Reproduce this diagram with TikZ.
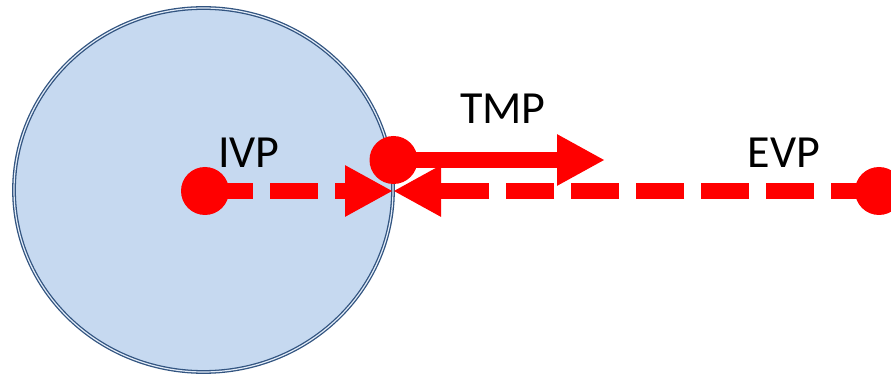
\documentclass[tikz,border=0pt]{standalone}
\usepackage{fontspec}
\setmainfont{Carlito}
\usetikzlibrary{positioning}
\usetikzlibrary{arrows.meta}
\definecolor{cellblue}{RGB}{198,217,240}
\definecolor{rimblue}{RGB}{50,84,128}

\begin{document}
\begin{tikzpicture}[x=0.5pt,y=-0.5pt]
 \tikzset{dot/.style={circle,fill=red,minimum size=24pt,inner sep=0pt},
  redline/.style={red,line width=8pt,-{Triangle[length=24pt,width=24pt]}},
  dashline/.style={redline,dash pattern=on 24pt off 8.5pt},
  lbl/.style={inner sep=0pt,font=\fontsize{23}{28}\selectfont}}
 \useasboundingbox (0,0) rectangle (891,374);
 \draw[draw=rimblue,double=cellblue!50,double distance=0.6pt,line width=0.65pt,fill=cellblue] (203.5,190) ellipse [x radius=94.75pt, y radius=91pt];
 \node[lbl] (ivplbl) at (249,152.5) {IVP};
 \node[lbl] (tmplbl) at (503,109) {TMP};
 \node[lbl] (evplbl) at (784,152.5) {EVP};
 \node[dot] (ivp) at (205,191) {};
 \node[dot] (tmp) at (393.5,160) {};
 \node[dot] (evp) at (879,191) {};
 \coordinate (meet) at (393,191);
 \coordinate (tmpend) at (605,160);
 \draw[dashline] (ivp.center) -- (meet);
 \draw[dashline] (evp.center) -- (meet);
 \draw[redline] (tmp.center) -- (tmpend);
\end{tikzpicture}
\end{document}
